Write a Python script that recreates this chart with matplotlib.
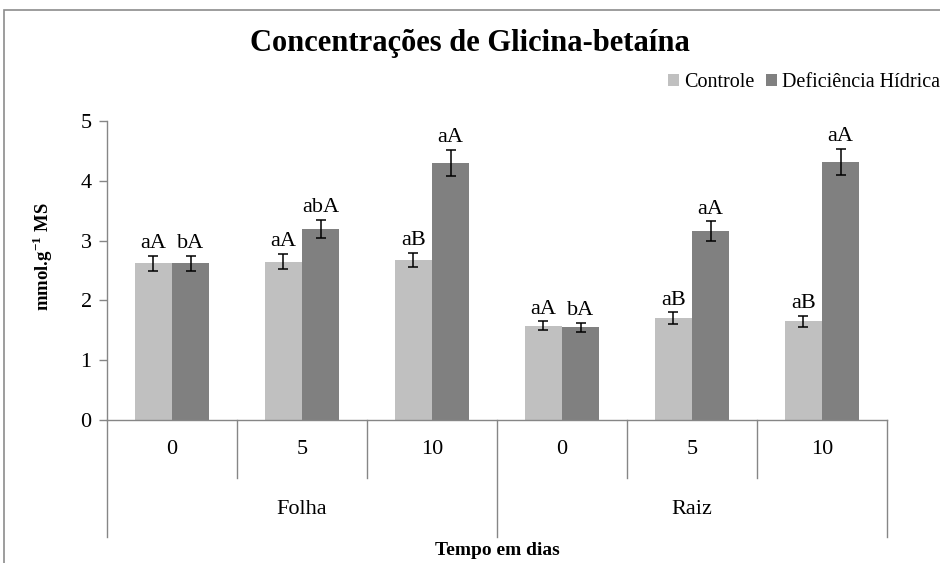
import matplotlib.pyplot as plt
from matplotlib.patches import Rectangle
import matplotlib.transforms as mtransforms
import numpy as np

# data
grupos = ["Folha", "Raiz"]
dias = ["0", "5", "10", "0", "5", "10"]
controle = [2.62, 2.65, 2.68, 1.58, 1.70, 1.65]
controle_err = [0.13, 0.13, 0.12, 0.07, 0.10, 0.09]
deficiencia = [2.62, 3.19, 4.30, 1.55, 3.16, 4.31]
deficiencia_err = [0.13, 0.15, 0.22, 0.08, 0.16, 0.22]
letras_controle = ["aA", "aA", "aB", "aA", "aB", "aB"]
letras_deficiencia = ["bA", "abA", "aA", "bA", "aA", "aA"]

plt.rcParams['font.family'] = ['Liberation Serif', 'DejaVu Serif']
plt.rcParams['mathtext.fontset'] = 'custom'
plt.rcParams['mathtext.rm'] = 'Liberation Serif'
plt.rcParams['mathtext.bf'] = 'Liberation Serif:bold'

fig = plt.figure(figsize=(9.4, 5.63), dpi=100)
# chart border (Excel style)
fig.patches.append(Rectangle((4/940, -0.1), 1.2, (563-10)/563 + 0.1, transform=fig.transFigure,
                             fill=False, edgecolor="#8c8c8c", lw=1.2))

ax = fig.add_axes([107/940, 1-420/563, (887-107)/940, 299/563])
x = np.arange(len(dias)) + 0.5
w = 0.285
ax.bar(x - w/2, controle, w, color="#c0c0c0", label="Controle",
       yerr=controle_err, error_kw=dict(ecolor="black", capsize=3.5, elinewidth=1.1, capthick=1.1))
ax.bar(x + w/2, deficiencia, w, color="#808080", label="Deficiência Hídrica",
       yerr=deficiencia_err, error_kw=dict(ecolor="black", capsize=3.5, elinewidth=1.1, capthick=1.1))

for i in range(len(dias)):
    ax.text(x[i] - w/2, controle[i] + controle_err[i] + 0.13, letras_controle[i],
            ha="center", va="baseline", fontsize=16)
    ax.text(x[i] + w/2, deficiencia[i] + deficiencia_err[i] + 0.13, letras_deficiencia[i],
            ha="center", va="baseline", fontsize=16)

ax.set_xlim(0, len(dias))
ax.set_ylim(0, 5)
ax.set_yticks(range(6))
ax.tick_params(axis="y", labelsize=16, color="#868686", length=6, width=1, pad=5)
ax.set_xticks([])
for s in ["top", "right"]:
    ax.spines[s].set_visible(False)
for s in ["left", "bottom"]:
    ax.spines[s].set_color("#868686")
    ax.spines[s].set_linewidth(1)

# multi-level category axis
trans = mtransforms.blended_transform_factory(ax.transData, ax.transAxes)
for i in range(len(dias) + 1):
    low = -0.391 if i in (0, 3, 6) else -0.194
    ax.plot([i, i], [0, low], transform=trans, color="#868686", lw=1, clip_on=False)
for i, d in enumerate(dias):
    ax.text(x[i], -0.10, d, transform=trans, ha="center", va="center", fontsize=16)
for j, g in enumerate(grupos):
    ax.text(1.5 + 3*j, -0.30, g, transform=trans, ha="center", va="center", fontsize=16)
ax.text(3, -0.435, "Tempo em dias", transform=trans, ha="center", va="center",
        fontsize=14, fontweight="bold")

ax.set_ylabel(r"mmol.g$^{\mathbf{-1}}$ MS", fontsize=13.5, fontweight="bold")
ax.yaxis.set_label_coords(-0.0667, 0.545)

fig.text(470/940, 1-44/563, "Concentrações de Glicina-betaína", ha="center", va="center",
         fontsize=22, fontweight="bold")
ax.legend(loc="center left", bbox_to_anchor=(668/940, 1-83/563), bbox_transform=fig.transFigure,
          ncol=2, frameon=False, fontsize=14.5, handlelength=0.55, handleheight=0.55,
          handletextpad=0.25, columnspacing=0.55, borderaxespad=0, borderpad=0)

fig.savefig("out.png", dpi=100)
